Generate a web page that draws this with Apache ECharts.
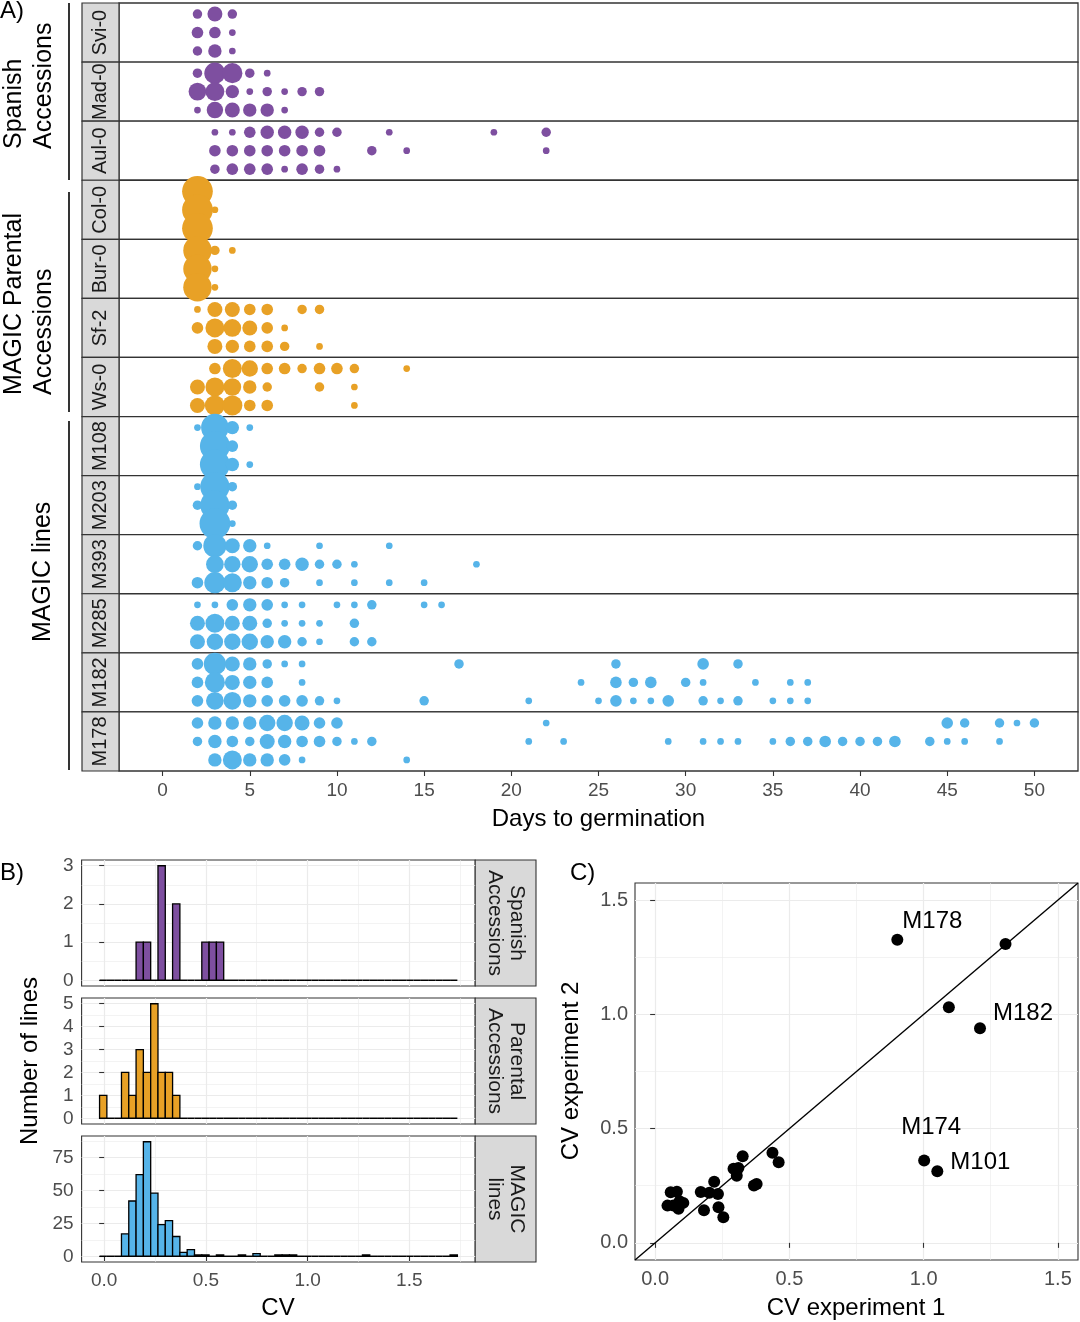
<!DOCTYPE html>
<html>
<head>
<meta charset="utf-8">
<script src="https://cdn.jsdelivr.net/npm/echarts@6/dist/echarts.min.js"></script>
<style>
  html, body { margin: 0; padding: 0; background: #fff; }
  #chart { width: 1080px; height: 1322px; }
</style>
</head>
<body>
<div id="chart"></div>
<script>
// ---------- A) days to germination: per accession, 3 sub-rows of [day, seeds germinated]
const svi0 = [
  [[2,2],[3,5],[4,2]],
  [[2,3],[3,3],[4,1]],
  [[2,2],[3,4],[4,1]]
];
const mad0 = [
  [[2,2],[3,10],[4,9],[5,2],[6,1]],
  [[2,7],[3,8],[4,4],[5,1],[6,2],[7,1],[8,2],[9,2]],
  [[2,1],[3,6],[4,5],[5,4],[6,4],[7,1]]
];
const aul0 = [
  [[3,1],[4,1],[5,3],[6,4],[7,4],[8,4],[9,2],[10,2],[13,1],[19,1],[22,2]],
  [[3,3],[4,3],[5,3],[6,3],[7,3],[8,3],[9,3],[12,2],[14,1],[22,1]],
  [[3,2],[4,3],[5,3],[6,3],[7,1],[8,3],[9,2],[10,1]]
];
const col0 = [
  [[2,21]],
  [[2,21],[3,1]],
  [[2,21]]
];
const bur0 = [
  [[2,18],[3,2],[4,1]],
  [[2,18],[3,1]],
  [[2,18],[3,1]]
];
const sf2 = [
  [[2,1],[3,5],[4,5],[5,3],[6,3],[8,2],[9,2]],
  [[2,3],[3,8],[4,7],[5,5],[6,3],[7,1]],
  [[3,5],[4,4],[5,3],[6,3],[7,2],[9,1]]
];
const ws0 = [
  [[3,3],[4,8],[5,6],[6,3],[7,3],[8,2],[9,3],[10,3],[11,2],[14,1]],
  [[2,5],[3,8],[4,7],[5,4],[6,2],[9,2],[11,1]],
  [[2,5],[3,9],[4,9],[5,3],[6,3],[11,1]]
];
const m108 = [
  [[2,1],[3,17],[4,4],[5,1]],
  [[3,20],[4,3]],
  [[3,20],[4,4],[5,1]]
];
const m203 = [
  [[2,1],[3,19],[4,2]],
  [[2,2],[3,19],[4,2]],
  [[3,21],[4,1]]
];
const m393 = [
  [[2,2],[3,12],[4,5],[5,4],[6,1],[9,1],[13,1]],
  [[3,7],[4,6],[5,6],[6,3],[7,3],[8,4],[9,2],[10,2],[11,1],[18,1]],
  [[2,3],[3,10],[4,8],[5,4],[6,3],[7,2],[9,1],[11,1],[13,1],[15,1]]
];
const m285 = [
  [[2,1],[3,1],[4,3],[5,4],[6,3],[7,1],[8,1],[10,1],[11,1],[12,2],[15,1],[16,1]],
  [[2,5],[3,8],[4,5],[5,5],[6,2],[7,1],[8,1],[9,1],[11,2]],
  [[2,5],[3,6],[4,6],[5,6],[6,4],[7,4],[8,2],[9,1],[11,2],[12,2]]
];
const m182 = [
  [[2,3],[3,11],[4,5],[5,4],[6,2],[7,1],[8,1],[17,2],[26,2],[31,3],[33,2]],
  [[2,3],[3,9],[4,5],[5,4],[6,3],[8,1],[24,1],[26,3],[27,2],[28,3],[30,2],[31,1],[34,1],[36,1],[37,1]],
  [[2,3],[3,7],[4,7],[5,4],[6,3],[7,3],[8,3],[9,2],[10,1],[15,2],[21,1],[25,1],[26,3],[27,1],[28,1],[29,3],[31,2],[32,1],[33,2],[35,1],[36,1],[37,1]]
];
const m178 = [
  [[2,3],[3,4],[4,4],[5,4],[6,6],[7,6],[8,5],[9,3],[10,3],[22,1],[45,3],[46,2],[48,2],[49,1],[50,2]],
  [[2,2],[3,4],[4,3],[5,2],[6,5],[7,4],[8,3],[9,3],[10,2],[11,1],[12,2],[21,1],[23,1],[29,1],[31,1],[32,1],[33,1],[35,1],[36,2],[37,2],[38,3],[39,2],[40,2],[41,2],[42,3],[44,2],[45,1],[46,1],[48,1]],
  [[3,4],[4,8],[5,4],[6,4],[7,3],[8,1],[14,1]]
];

const accessions = ['Svi-0','Mad-0','Aul-0','Col-0','Bur-0','Sf-2','Ws-0','M108','M203','M393','M285','M182','M178'];
const accessionRows = [svi0, mad0, aul0, col0, bur0, sf2, ws0, m108, m203, m393, m285, m182, m178];
const accessionGroup = [0,0,0,1,1,1,1,2,2,2,2,2,2];
const groupColors = ['#7e4fa0', '#e8a126', '#56b4e9'];
const dayTicks = [0,5,10,15,20,25,30,35,40,45,50];

// ---------- B) histograms of CV
const binStart = -0.0227;
const binWidth = 0.0359;
const spanishCounts  = [0,0,0,0,0,1,1,0,3,0,2,0,0,0,1,1,1,0,0,0,0,0,0,0,0,0,0,0,0,0,0,0,0,0,0,0,0,0,0,0,0,0,0,0,0,0,0,0,0];
const parentalCounts = [1,0,0,2,1,3,2,5,2,2,1,0,0,0,0,0,0,0,0,0,0,0,0,0,0,0,0,0,0,0,0,0,0,0,0,0,0,0,0,0,0,0,0,0,0,0,0,0,0];
const magicCounts    = [0,0,0,17,42,62,87,48,24,27,15,3,5,1,1,0,1,0,0,1,0,2,0,0,1,1,1,0,0,0,0,0,0,0,0,0,1,0,0,0,0,0,0,0,0,0,0,0,1];
const histNames = ['Spanish\nAccessions', 'Parental\nAccessions', 'MAGIC\nlines'];
const cvTicks = [0, 0.5, 1, 1.5];
const cvMinor = [0.25, 0.75, 1.25, 1.75];
const countTicks = [[0,1,2,3], [0,1,2,3,4,5], [0,25,50,75]];
const countMinor = [[0.5,1.5,2.5], [0.5,1.5,2.5,3.5,4.5], [12.5,37.5,62.5,87.5]];

// ---------- C) CV experiment 1 vs experiment 2
const cvExp1 = [0.902,1.305,1.094,1.210,1.002,1.051,0.326,0.437,0.460,0.292,0.310,0.304,0.368,0.378,0.220,0.170,0.202,0.234,0.182,0.236,0.254,0.058,0.081,0.046,0.068,0.087,0.105,0.091];
const cvExp2 = [1.327,1.308,1.031,0.939,0.360,0.313,0.379,0.394,0.353,0.324,0.328,0.294,0.251,0.258,0.267,0.223,0.219,0.214,0.143,0.156,0.112,0.222,0.224,0.163,0.163,0.149,0.175,0.182];
const cvNames = ['M178','','','M182','M174','M101','','','','','','','','','','','','','','','','','','','','','',''];

const FONT = 'Liberation Sans, Arial, Helvetica, sans-serif';
const labelPlace = {
  M178: { position: 'right', distance: 0, offset: [-1, -18] },
  M182: { position: 'right', distance: 7, offset: [0, -15] },
  M174: { position: 'top', distance: 15, offset: [7, 0] },
  M101: { position: 'right', distance: 7, offset: [0, -9] }
};

const grids = [], xAxes = [], yAxes = [], series = [], graphics = [];

// ---------- panel A layout
const aLeft = 119, aWidth = 959, aTop = 3, rowH = 768 / 13;

accessions.forEach((name, i) => {
  const top = aTop + i * rowH;
  grids.push({ left: aLeft, top: top, width: aWidth, height: rowH, show: true,
    borderColor: '#333', borderWidth: 1.3, backgroundColor: '#fff' });
  const last = i === accessions.length - 1;
  xAxes.push({
    type: 'value', gridIndex: i, min: -2.5, max: 52.5, splitNumber: 10, show: last,
    axisLine: { show: false },
    axisTick: { show: true, length: 5, customValues: dayTicks, lineStyle: { color: '#333', width: 1.1 } },
    axisLabel: { customValues: dayTicks, color: '#4d4d4d', fontSize: 19, margin: 10, fontFamily: FONT },
    splitLine: { show: false }
  });
  yAxes.push({ type: 'value', gridIndex: i, min: 0.4, max: 3.6, inverse: true, show: false });
  const pts = [];
  accessionRows[i].forEach((row, r) => row.forEach(d => pts.push([d[0], r + 1, d[1]])));
  series.push({
    type: 'scatter', xAxisIndex: i, yAxisIndex: i, data: pts, silent: true,
    symbolSize: v => 6.7 * Math.sqrt(v[2]),
    itemStyle: { color: groupColors[accessionGroup[i]], opacity: 1 }
  });
  // strip on the left
  graphics.push({ type: 'rect', shape: { x: 82, y: top, width: aLeft - 82, height: rowH },
    style: { fill: '#d9d9d9', stroke: '#333', lineWidth: 1.2 } });
  graphics.push({ type: 'text', x: 100.5, y: top + rowH / 2, rotation: Math.PI / 2,
    style: { text: name, font: '20px ' + FONT, fill: '#1a1a1a',
      textAlign: 'center', textVerticalAlign: 'middle', align: 'center', verticalAlign: 'middle' } });
});

// group labels for panel A
const groupLabels = [
  { lines: ['Spanish', 'Accessions'], y: 149, y0: 3, y1: 180 },
  { lines: ['MAGIC Parental', 'Accessions'], y: 395, y0: 192, y1: 412 },
  { lines: ['MAGIC lines'], y: 642, y0: 421, y1: 770 }
];
groupLabels.forEach(g => {
  const xs = g.lines.length === 2 ? [14, 44] : [43];
  g.lines.forEach((t, k) => {
    graphics.push({ type: 'text', x: xs[k], y: g.y, rotation: Math.PI / 2,
      style: { text: t, font: '25px ' + FONT, fill: '#000',
        textAlign: 'left', textVerticalAlign: 'middle', align: 'left', verticalAlign: 'middle' } });
  });
  graphics.push({ type: 'line', shape: { x1: 69, y1: g.y0, x2: 69, y2: g.y1 },
    style: { stroke: '#000', lineWidth: 1.6 } });
});

// ---------- helpers for panels B and C
function majorAxis(gridIndex, min, max, values, showLabels, fmt, fontSize, margin) {
  return {
    type: 'value', gridIndex: gridIndex, min: min, max: max,
    axisLine: { show: false },
    axisTick: { show: showLabels, length: 5, customValues: values, lineStyle: { color: '#333', width: 1.1 } },
    axisLabel: { show: showLabels, customValues: values, color: '#4d4d4d', fontSize: fontSize,
      margin: margin, fontFamily: FONT, formatter: fmt },
    splitLine: { show: true, lineStyle: { color: '#ebebeb', width: 1.2 } }
  };
}
function minorAxis(gridIndex, min, max, values) {
  return {
    type: 'value', gridIndex: gridIndex, min: min, max: max,
    axisLine: { show: false },
    axisTick: { show: false, customValues: values },
    axisLabel: { show: false, customValues: values },
    splitLine: { show: true, lineStyle: { color: '#ebebeb', width: 0.6 } }
  };
}
const fmt1 = v => v.toFixed(1);
const fmt0 = v => String(v);

// ---------- panel B
const bLeft = 81.6, bWidth = 393.6, bTops = [860, 998, 1136], bH = 126;
const bYRange = [[-0.15, 3.15], [-0.25, 5.25], [-4.35, 91.35]];
const histCounts = [spanishCounts, parentalCounts, magicCounts];

histCounts.forEach((counts, j) => {
  const gi = grids.length;
  grids.push({ left: bLeft, top: bTops[j], width: bWidth, height: bH, show: true,
    borderColor: '#333', borderWidth: 1.1, backgroundColor: '#fff' });
  const xi = xAxes.length;
  xAxes.push(majorAxis(gi, -0.111, 1.824, cvTicks, j === 2, fmt1, 19, 9));
  xAxes.push(minorAxis(gi, -0.111, 1.824, cvMinor));
  const yi = yAxes.length;
  yAxes.push(majorAxis(gi, bYRange[j][0], bYRange[j][1], countTicks[j], true, fmt0, 19, 8));
  yAxes.push(minorAxis(gi, bYRange[j][0], bYRange[j][1], countMinor[j]));
  const color = groupColors[j];
  series.push({
    type: 'custom', xAxisIndex: xi, yAxisIndex: yi, silent: true,
    data: counts.map((c, i) => [binStart + i * binWidth, binStart + (i + 1) * binWidth, c]),
    renderItem: (params, api) => {
      const a = api.coord([api.value(0), api.value(2)]);
      const b = api.coord([api.value(1), 0]);
      if (api.value(2) === 0) {
        return { type: 'line', shape: { x1: a[0], y1: b[1], x2: b[0], y2: b[1] },
          style: { stroke: '#000', lineWidth: 1.5 } };
      }
      return { type: 'rect', shape: { x: a[0], y: a[1], width: b[0] - a[0], height: b[1] - a[1] },
        style: { fill: color, stroke: '#000', lineWidth: 1.3 } };
    }
  });
  // strip on the right
  graphics.push({ type: 'rect', shape: { x: bLeft + bWidth, y: bTops[j], width: 536 - bLeft - bWidth, height: bH },
    style: { fill: '#d9d9d9', stroke: '#333', lineWidth: 1.1 } });
  graphics.push({ type: 'text', x: (bLeft + bWidth + 536) / 2, y: bTops[j] + bH / 2, rotation: -Math.PI / 2,
    style: { text: histNames[j], font: '21px ' + FONT, fill: '#1a1a1a', lineHeight: 22,
      textAlign: 'center', textVerticalAlign: 'middle', align: 'center', verticalAlign: 'middle' } });
});

// ---------- panel C
{
  const gi = grids.length;
  grids.push({ left: 635, top: 883, width: 443, height: 377, show: true,
    borderColor: '#333', borderWidth: 1.1, backgroundColor: '#fff' });
  const xi = xAxes.length;
  xAxes.push(majorAxis(gi, -0.075, 1.575, cvTicks, true, fmt1, 20, 9));
  xAxes.push(minorAxis(gi, -0.075, 1.575, [0.25, 0.75, 1.25]));
  const yi = yAxes.length;
  yAxes.push(majorAxis(gi, -0.075, 1.575, cvTicks, true, fmt1, 20, 7));
  yAxes.push(minorAxis(gi, -0.075, 1.575, [0.25, 0.75, 1.25]));
  series.push({
    type: 'line', xAxisIndex: xi, yAxisIndex: yi, silent: true, symbol: 'none',
    data: [[-0.075, -0.075], [1.575, 1.575]],
    lineStyle: { color: '#000', width: 1.4 }, z: 2
  });
  series.push({
    type: 'scatter', xAxisIndex: xi, yAxisIndex: yi, silent: true, symbolSize: 12, z: 3,
    itemStyle: { color: '#000', opacity: 1 },
    data: cvExp1.map((x, i) => {
      const nm = cvNames[i];
      const item = { value: [x, cvExp2[i]], name: nm };
      if (nm) {
        item.label = Object.assign({ show: true, formatter: '{b}', fontSize: 24, color: '#000',
          opacity: 1, fontFamily: FONT }, labelPlace[nm]);
      }
      return item;
    })
  });
}

// ---------- titles and panel letters
function txt(text, x, y, size, rot, align) {
  return { type: 'text', x: x, y: y, rotation: rot || 0,
    style: { text: text, font: size + 'px ' + FONT, fill: '#000',
      textAlign: align || 'center', textVerticalAlign: 'middle',
      align: align || 'center', verticalAlign: 'middle' } };
}
graphics.push(txt('A)', 0, 11, 24, 0, 'left'));
graphics.push(txt('B)', 0, 873, 24, 0, 'left'));
graphics.push(txt('C)', 570, 873, 24, 0, 'left'));
graphics.push(txt('Days to germination', 598.5, 819, 24));
graphics.push(txt('Number of lines', 30, 1061, 24, Math.PI / 2));
graphics.push(txt('CV', 278, 1308, 24));
graphics.push(txt('CV experiment 1', 856, 1308, 24));
graphics.push(txt('CV experiment 2', 571, 1071, 24, Math.PI / 2));

const chart = echarts.init(document.getElementById('chart'), null, { renderer: 'canvas' });
chart.setOption({
  animation: false,
  backgroundColor: '#fff',
  textStyle: { fontFamily: FONT },
  grid: grids,
  xAxis: xAxes,
  yAxis: yAxes,
  series: series,
  graphic: { elements: graphics }
});
</script>
</body>
</html>
